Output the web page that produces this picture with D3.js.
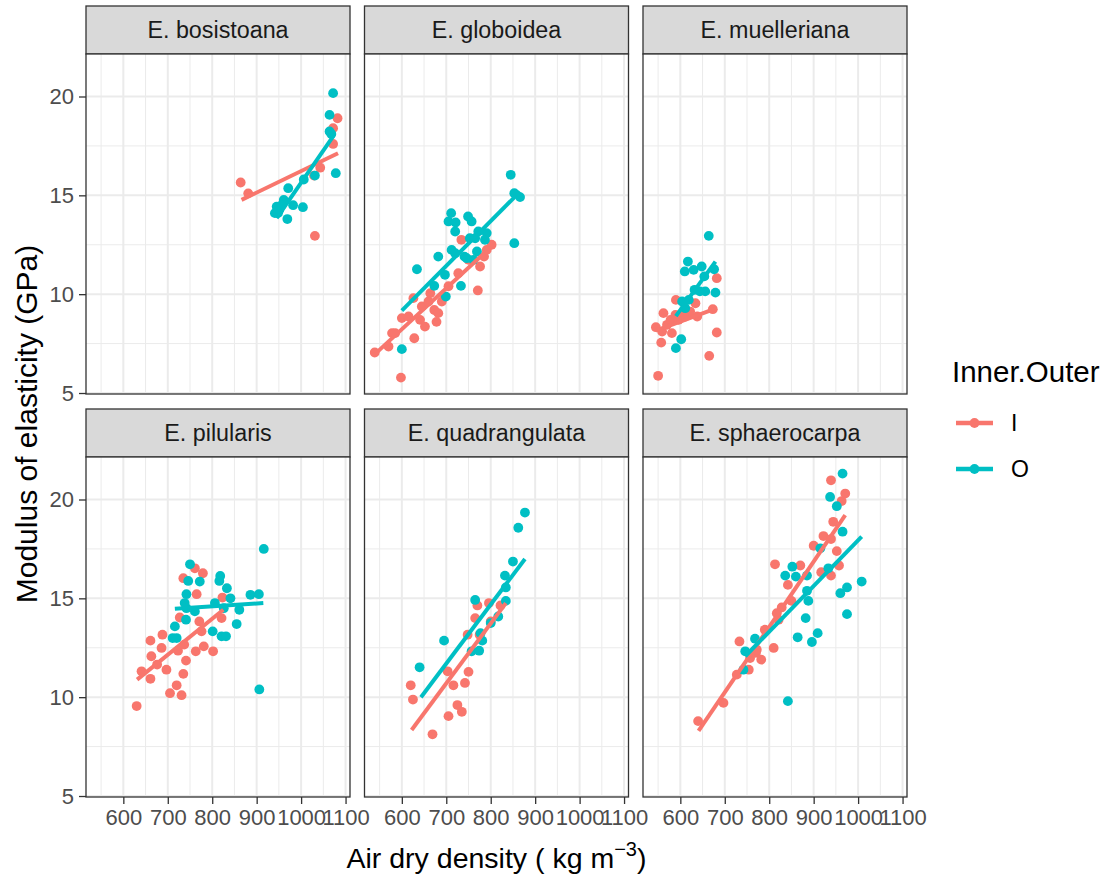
<!DOCTYPE html>
<html>
<head>
<meta charset="utf-8">
<script src="https://cdn.jsdelivr.net/npm/d3@7"></script>
<style>
  body { margin: 0; background: #fff; }
  svg { display: block; font-family: Arial, "Liberation Sans", sans-serif; }
</style>
</head>
<body>
<script>
// Facet titles, in row-major order
const species = ["E. bosistoana", "E. globoidea", "E. muelleriana",
                 "E. pilularis", "E. quadrangulata", "E. sphaerocarpa"];
const groups = ["I", "O"];
const groupColors = ["#F8766D", "#00BFC4"];
const xTicks = [600, 700, 800, 900, 1000, 1100];
const yTicks = [5, 10, 15, 20];

// Air dry density (kg m^-3), modulus of elasticity (GPa) — inner wood
const bosistoanaI = [[864,15.65],[881,15.1],[1031,12.95],[1043,16.4],[1029,16.0],[1072,17.6],[1072,18.4],[1082,18.9]];
const globoideaI = [[539,7.05],[570,7.35],[578,8.03],[585,8.03],[598,5.78],[600,8.79],[615,8.87],[628,7.77],[626,9.8],[641,8.7],[645,9.38],[652,8.36],[660,9.63],[664,10.05],[673,9.2],[678,8.6],[682,9.04],[690,9.63],[697,9.88],[705,10.4],[727,11.06],[734,12.75],[750,11.74],[771,10.19],[776,11.4],[785,11.9],[791,12.24],[802,12.5]];
const muellerianaI = [[550,5.87],[545,8.33],[557,7.55],[562,9.04],[559,8.11],[570,8.45],[578,8.7],[581,8.03],[590,9.71],[589,8.95],[596,8.7],[604,9.04],[611,8.87],[622,9.12],[634,9.54],[638,8.87],[665,6.88],[673,9.24],[682,10.81],[682,8.06]];
const pilularisI = [[630,9.55],[641,11.31],[661,10.93],[661,12.86],[663,12.07],[676,11.65],[688,13.16],[686,12.49],[697,11.39],[705,10.2],[720,10.6],[731,10.1],[735,11.18],[723,12.35],[737,12.66],[741,11.85],[727,14.03],[735,16.02],[761,16.52],[779,16.27],[765,15.21],[763,12.32],[771,13.83],[776,13.33],[781,12.57],[802,12.32],[821,14.0],[823,15.04]];
const quadrangulataI = [[620,10.6],[625,9.88],[669,8.12],[703,11.31],[705,9.04],[716,10.6],[725,9.6],[735,9.26],[742,10.72],[750,11.28],[748,13.16],[765,14.0],[770,14.64],[775,13.16],[796,14.76],[800,13.83],[822,14.64]];
const sphaerocarpaI = [[640,8.79],[697,9.71],[727,11.14],[754,11.39],[733,12.82],[757,11.98],[770,12.24],[782,11.9],[772,12.4],[790,13.41],[810,12.49],[813,16.72],[817,14.25],[828,14.54],[821,13.92],[842,15.68],[850,14.87],[870,16.66],[900,17.66],[917,16.32],[922,18.15],[939,16.15],[939,18.0],[944,18.87],[952,17.39],[957,16.66],[963,19.92],[971,20.3],[939,20.97]];

// Outer wood
const bosistoanaO = [[1072,20.17],[1064,19.07],[1064,18.23],[1068,18.1],[1078,16.12],[1031,16.0],[1006,15.8],[971,15.36],[961,14.77],[945,14.43],[948,14.1],[941,14.1],[956,14.5],[982,14.5],[1004,14.4],[969,13.8],[951,14.27]];
const globoideaO = [[600,7.22],[634,11.26],[673,10.42],[682,11.9],[697,10.98],[699,9.88],[711,14.1],[705,13.68],[721,13.63],[720,13.17],[712,12.24],[720,12.07],[733,10.42],[741,11.9],[749,13.93],[757,13.68],[753,12.83],[765,12.83],[769,12.16],[761,11.74],[772,13.17],[791,13.09],[787,12.75],[746,11.82],[845,16.04],[853,15.11],[866,14.91],[853,12.58]];
const muellerianaO = [[664,12.95],[617,11.65],[610,11.15],[630,11.23],[648,11.4],[654,10.9],[676,11.26],[632,10.22],[644,10.14],[656,10.14],[679,10.08],[619,9.71],[604,9.63],[611,9.29],[602,7.72],[590,7.27]];
const pilularisO = [[750,16.72],[746,15.88],[772,15.85],[742,15.21],[738,14.76],[742,14.5],[741,13.92],[716,13.58],[720,12.99],[711,12.99],[761,14.34],[818,16.13],[816,15.88],[833,15.51],[841,15.0],[806,14.76],[826,14.5],[861,14.42],[855,13.7],[801,13.33],[821,13.08],[831,13.08],[886,15.18],[905,15.21],[916,17.5],[906,10.39]];
const quadrangulataO = [[640,11.51],[695,12.86],[765,14.92],[757,12.32],[774,12.35],[781,12.86],[777,13.24],[800,13.75],[817,14.08],[834,14.87],[834,15.55],[832,16.15],[850,16.86],[862,18.57],[877,19.34]];
const sphaerocarpaO = [[842,9.8],[746,12.32],[742,11.39],[768,12.96],[836,16.15],[852,16.6],[860,16.1],[885,16.15],[885,15.38],[888,14.87],[882,14.0],[864,13.03],[896,12.79],[909,13.24],[915,17.53],[933,16.52],[937,20.13],[952,19.66],[965,21.31],[965,18.37],[960,15.26],[975,15.55],[975,14.2],[1008,15.85]];

// Linear fits per species: [x start, y start, x end, y end]
const fitsI = [[866,14.77,1083,17.13],[540,6.98,806,12.5],[545,8.16,682,9.29],
               [631,10.89,825,14.42],[622,8.34,834,14.76],[641,8.29,971,19.21]];
const fitsO = [[945,13.85,1072,17.98],[600,9.17,866,15.19],[590,8.89,679,11.65],
               [716,14.47,915,14.76],[643,10.0,877,16.99],[746,12.07,1008,18.12]];

const pointsI = [bosistoanaI, globoideaI, muellerianaI, pilularisI, quadrangulataI, sphaerocarpaI];
const pointsO = [bosistoanaO, globoideaO, muellerianaO, pilularisO, quadrangulataO, sphaerocarpaO];

// ---- layout ----
const W = 1106, H = 883;
const panelW = 264, plotH = 340, stripH = 48;
const colLeft = [86, 364.5, 643];
const rowTop = [6, 409];   // top of each strip

const x = d3.scaleLinear().domain([516, 1110]).range([0, panelW]);
const y = d3.scaleLinear().domain([4.95, 22.15]).range([plotH, 0]);
const xMinor = d3.range(550, 1110, 100);
const yMinor = [7.5, 12.5, 17.5];

const svg = d3.select("body").append("svg").attr("width", W).attr("height", H);

species.forEach((name, i) => {
  const r = Math.floor(i / 3), c = i % 3;
  const g = svg.append("g").attr("transform", `translate(${colLeft[c]},${rowTop[r]})`);

  // strip
  g.append("rect").attr("x", 0).attr("y", 0).attr("width", panelW).attr("height", stripH)
    .attr("fill", "#D9D9D9").attr("stroke", "#333333").attr("stroke-width", 1.3);
  g.append("text").attr("x", panelW / 2).attr("y", stripH / 2 + 8)
    .attr("text-anchor", "middle").attr("font-size", 23.3).attr("fill", "#1A1A1A").text(name);

  const p = g.append("g").attr("transform", `translate(0,${stripH})`);
  p.append("rect").attr("width", panelW).attr("height", plotH).attr("fill", "#fff");

  // grid
  p.selectAll(".xmin").data(xMinor).join("line")
    .attr("x1", d => x(d)).attr("x2", d => x(d)).attr("y1", 0).attr("y2", plotH)
    .attr("stroke", "#EBEBEB").attr("stroke-width", 1);
  p.selectAll(".ymin").data(yMinor).join("line")
    .attr("y1", d => y(d)).attr("y2", d => y(d)).attr("x1", 0).attr("x2", panelW)
    .attr("stroke", "#EBEBEB").attr("stroke-width", 1);
  p.selectAll(".xmaj").data(xTicks).join("line")
    .attr("x1", d => x(d)).attr("x2", d => x(d)).attr("y1", 0).attr("y2", plotH)
    .attr("stroke", "#EBEBEB").attr("stroke-width", 2);
  p.selectAll(".ymaj").data(yTicks).join("line")
    .attr("y1", d => y(d)).attr("y2", d => y(d)).attr("x1", 0).attr("x2", panelW)
    .attr("stroke", "#EBEBEB").attr("stroke-width", 2);

  // points
  [pointsI[i], pointsO[i]].forEach((pts, gi) => {
    p.append("g").selectAll("circle").data(pts).join("circle")
      .attr("cx", d => x(d[0])).attr("cy", d => y(d[1])).attr("r", 4.9)
      .attr("fill", groupColors[gi]);
  });

  // fitted lines
  [fitsI[i], fitsO[i]].forEach((f, gi) => {
    p.append("line")
      .attr("x1", x(f[0])).attr("y1", y(f[1])).attr("x2", x(f[2])).attr("y2", y(f[3]))
      .attr("stroke", groupColors[gi]).attr("stroke-width", 4);
  });

  // border
  p.append("rect").attr("width", panelW).attr("height", plotH)
    .attr("fill", "none").attr("stroke", "#333333").attr("stroke-width", 1.3);

  // axes
  if (c === 0) {
    const ay = p.append("g").call(d3.axisLeft(y).tickValues(yTicks).tickSize(7).tickPadding(5));
    ay.select(".domain").remove();
    ay.selectAll("line").attr("stroke", "#333333").attr("stroke-width", 1.3);
    ay.selectAll("text").attr("font-size", 22).attr("fill", "#4D4D4D").attr("font-family", null);
  }
  if (r === 1) {
    const ax = p.append("g").attr("transform", `translate(0,${plotH})`)
      .call(d3.axisBottom(x).tickValues(xTicks).tickFormat(d3.format("d")).tickSize(7).tickPadding(5));
    ax.select(".domain").remove();
    ax.selectAll("line").attr("stroke", "#333333").attr("stroke-width", 1.3);
    ax.selectAll("text").attr("font-size", 22).attr("fill", "#4D4D4D").attr("font-family", null);
  }
});

// axis titles
const xt = svg.append("text").attr("x", 496.5).attr("y", 868).attr("text-anchor", "middle")
  .attr("font-size", 28.5).attr("fill", "#000");
xt.append("tspan").text("Air dry density ( kg m");
xt.append("tspan").attr("dy", -12).attr("font-size", 20).text("\u22123");
xt.append("tspan").attr("dy", 12).text(")");

svg.append("text").attr("transform", "translate(37,424) rotate(-90)")
  .attr("text-anchor", "middle").attr("font-size", 30).attr("fill", "#000")
  .text("Modulus of elasticity (GPa)");

// legend
const lg = svg.append("g");
lg.append("text").attr("x", 952).attr("y", 382).attr("font-size", 29.5).attr("fill", "#000").text("Inner.Outer");
groups.forEach((gname, gi) => {
  const cy = 423 + gi * 46;
  lg.append("line").attr("x1", 956).attr("x2", 993).attr("y1", cy).attr("y2", cy)
    .attr("stroke", groupColors[gi]).attr("stroke-width", 4.5);
  lg.append("circle").attr("cx", 974.5).attr("cy", cy).attr("r", 4.9).attr("fill", groupColors[gi]);
  lg.append("text").attr("x", 1011).attr("y", cy + 8).attr("font-size", 23).attr("fill", "#000").text(gname);
});
</script>
</body>
</html>
